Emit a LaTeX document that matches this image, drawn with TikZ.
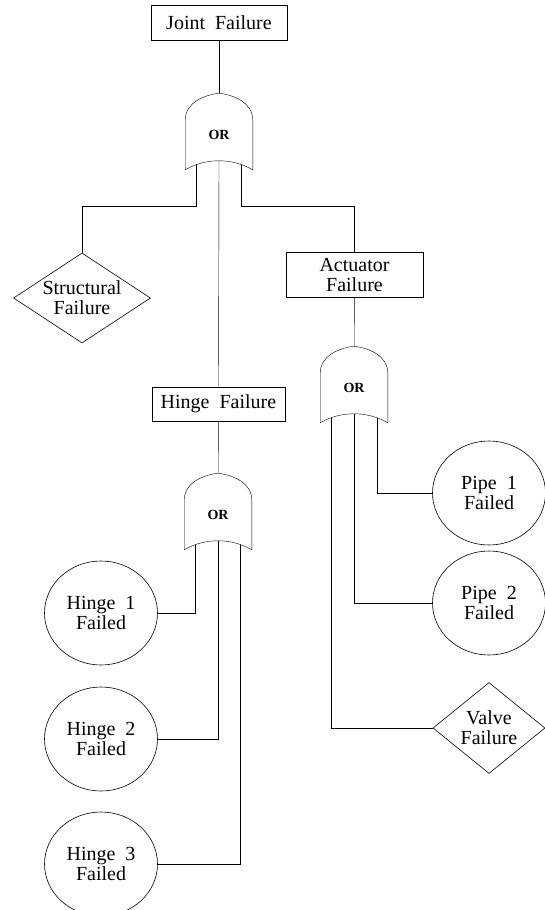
\documentclass[tikz,border=0pt]{standalone}
\usepackage{fontspec}
\setmainfont{Liberation Serif}
\usetikzlibrary{shapes.geometric,backgrounds}

\newcommand{\orgate}[1]{%
  \draw[gateline] (#1.south west) -- ([yshift=-8pt]#1.north west)
    .. controls ([yshift=9pt]#1.north west) and ([xshift=-16pt,yshift=17pt]#1.north) .. ([yshift=19pt]#1.north)
    .. controls ([xshift=16pt,yshift=17pt]#1.north) and ([yshift=9pt]#1.north east) .. ([yshift=-8pt]#1.north east)
    -- (#1.south east)
    .. controls ([xshift=-12pt,yshift=7pt]#1.south east) and ([xshift=10pt,yshift=9pt]#1.south) .. ([yshift=9pt]#1.south)
    .. controls ([xshift=-10pt,yshift=9pt]#1.south) and ([xshift=12pt,yshift=7pt]#1.south west) .. (#1.south west) -- cycle;}

\begin{document}
\begin{tikzpicture}[x=1pt, y=-1pt, line width=0.6pt, font=\fontsize{20}{20}\selectfont,
  box/.style={draw, align=center, inner sep=1pt, minimum height=35pt},
  event/.style={draw, ellipse, align=center, inner sep=0pt, minimum width=113pt, minimum height=104pt},
  undev/.style={draw, diamond, aspect=1.5, align=center, inner sep=0pt},
  gate/.style={minimum width=67pt, minimum height=57pt, inner sep=0pt, text height=9pt, text depth=12pt, font=\bfseries\fontsize{14}{14}\selectfont},
  gateline/.style={fill=white, line join=round}]
\useasboundingbox (0,0) rectangle (545,910);

\node[box, minimum width=136pt] (joint) at (219,23) {Joint~ Failure};
\node[gate] (g1) at (219,141) {OR};
\node[undev, minimum width=137pt, minimum height=90pt] (struct) at (82,298) {Structural\\Failure};
\node[box, minimum width=137pt, minimum height=45pt] (act) at (354.5,274.5) {Actuator\\Failure};
\node[box, minimum width=133pt, minimum height=34pt] (hinge) at (218.5,404) {Hinge~ Failure};
\node[gate] (g2) at (354,394) {OR};
\node[event] (pipe1) at (489,493) {Pipe~ 1\\Failed};
\node[event] (pipe2) at (489,603) {Pipe~ 2\\Failed};
\node[undev, minimum width=112pt, minimum height=91pt] (valve) at (489,728) {Valve\\Failure};
\node[gate] (g3) at (218,521) {OR};
\node[event] (hinge1) at (101,613) {Hinge~ 1\\Failed};
\node[event] (hinge2) at (101,739) {Hinge~ 2\\Failed};
\node[event] (hinge3) at (101,864) {Hinge~ 3\\Failed};

\begin{scope}[on background layer]
\draw (joint) -- (g1);
\draw ([xshift=-22.5pt,yshift=12pt]g1.south) -- ++(0,-48pt) -| (struct.north);
\draw ([xshift=22.5pt,yshift=12pt]g1.south) -- ++(0,-48pt) -| (act.north);
\draw ([yshift=12pt]g1.south) -- (hinge.north);
\draw (act) -- (g2);
\draw ([xshift=23pt,yshift=12pt]g2.south) |- (pipe1.west);
\draw ([yshift=12pt]g2.south) |- (pipe2.west);
\draw ([xshift=-23pt,yshift=12pt]g2.south) |- (valve.west);
\draw (hinge) -- (g3);
\draw ([xshift=-22.5pt,yshift=12pt]g3.south) |- (hinge1.east);
\draw ([yshift=12pt]g3.south) |- (hinge2.east);
\draw ([xshift=22.5pt,yshift=12pt]g3.south) |- (hinge3.east);
\orgate{g1}
\orgate{g2}
\orgate{g3}
\end{scope}
\end{tikzpicture}
\end{document}
